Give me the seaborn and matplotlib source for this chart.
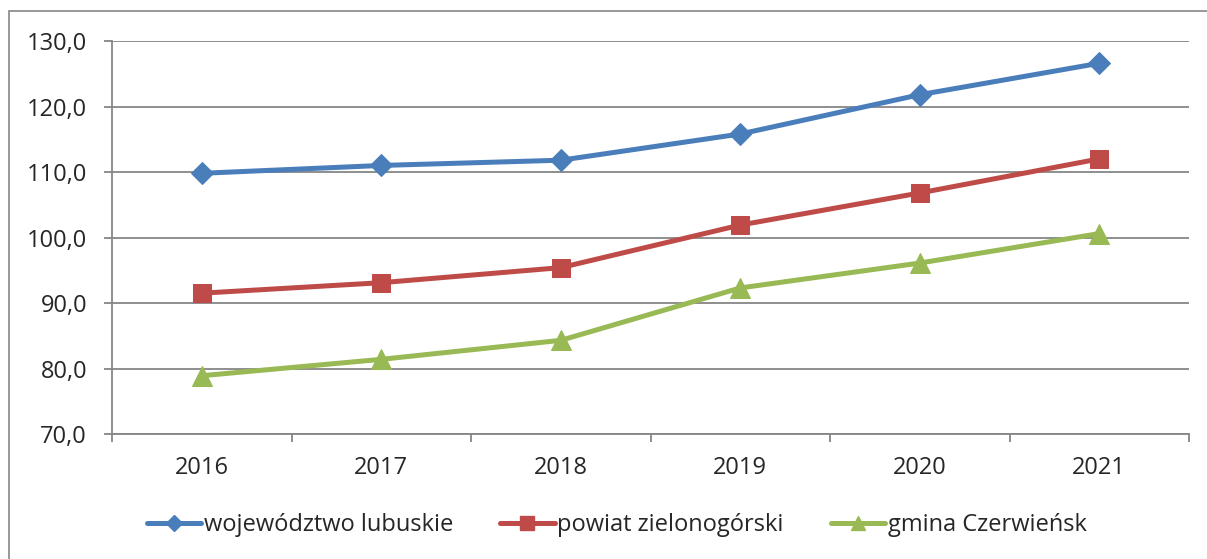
import pandas as pd
import matplotlib
matplotlib.use('Agg')
import matplotlib.pyplot as plt
import matplotlib.ticker as mticker
from matplotlib.patches import Rectangle
from matplotlib.lines import Line2D
import seaborn as sns

# values
years = ['2016', '2017', '2018', '2019', '2020', '2021']
wojewodztwo = [109.8, 111.0, 111.8, 115.8, 121.8, 126.6]
powiat = [91.5, 93.1, 95.4, 101.9, 106.8, 112.0]
gmina = [78.9, 81.4, 84.3, 92.3, 96.1, 100.6]

series_names = ['województwo lubuskie', 'powiat zielonogórski', 'gmina Czerwieńsk']
colors = ['#4A7EBB', '#BE4B48', '#98B954']
markers = ['D', 's', '^']
msizes = [11, 13, 14]

df = pd.concat([
    pd.DataFrame({'rok': years, 'wartosc': vals, 'seria': name})
    for name, vals in zip(series_names, [wojewodztwo, powiat, gmina])
], ignore_index=True)

sns.set_style('white')
plt.rcParams['font.family'] = ['Open Sans', 'DejaVu Sans']

fig = plt.figure(figsize=(12.07, 5.59), dpi=100)
ax = fig.add_axes([112 / 1207, 1 - 434 / 559, (1189 - 112) / 1207, (434 - 41) / 559])

# outer chart frame
fig.patches.append(Rectangle((9 / 1207, -0.1), 1.2, 1.1 - 11 / 559, transform=fig.transFigure,
                             fill=False, edgecolor='#868686', linewidth=1.2))

handles = []
for name, col, mk, ms in zip(series_names, colors, markers, msizes):
    sub = df[df['seria'] == name]
    sns.lineplot(data=sub, x='rok', y='wartosc', ax=ax, color=col, linewidth=3.6,
                 marker=mk, markersize=ms, markeredgecolor=col, sort=False, legend=False)
    handles.append(Line2D([], [], color=col, linewidth=3.6, marker=mk, markersize=ms * 0.75,
                          markeredgecolor=col, label=name))

ax.set_xlim(-0.5, 5.5)
ax.set_ylim(70, 130)
ax.set_yticks(range(70, 131, 10))
ax.yaxis.set_major_formatter(mticker.FuncFormatter(lambda v, p: f'{v:.1f}'.replace('.', ',')))
ax.set_xticks(range(len(years)))
ax.set_xticklabels(years)
ax.set_xticks([i - 0.5 for i in range(len(years) + 1)], minor=True)
ax.set_xlabel('')
ax.set_ylabel('')

ax.grid(axis='y', color='#868686', linewidth=1.3)
ax.set_axisbelow(True)
for s in ['top', 'right']:
    ax.spines[s].set_visible(False)
for s in ['left', 'bottom']:
    ax.spines[s].set_color('#868686')
    ax.spines[s].set_linewidth(1.3)

ax.tick_params(axis='y', which='major', direction='out', length=6, width=1.3, color='#868686',
               labelsize=17, pad=12, left=True)
ax.tick_params(axis='x', which='major', length=0, labelsize=17, pad=16)
ax.tick_params(axis='x', which='minor', direction='out', length=6, width=1.3, color='#868686', bottom=True)

fig.legend(handles=handles, loc='center', bbox_to_anchor=(0.511, 1 - 525 / 559), ncol=3,
           frameon=False, fontsize=17, handlelength=2.3, handletextpad=0.12, columnspacing=2.0)

fig.savefig('out.png', dpi=100)
